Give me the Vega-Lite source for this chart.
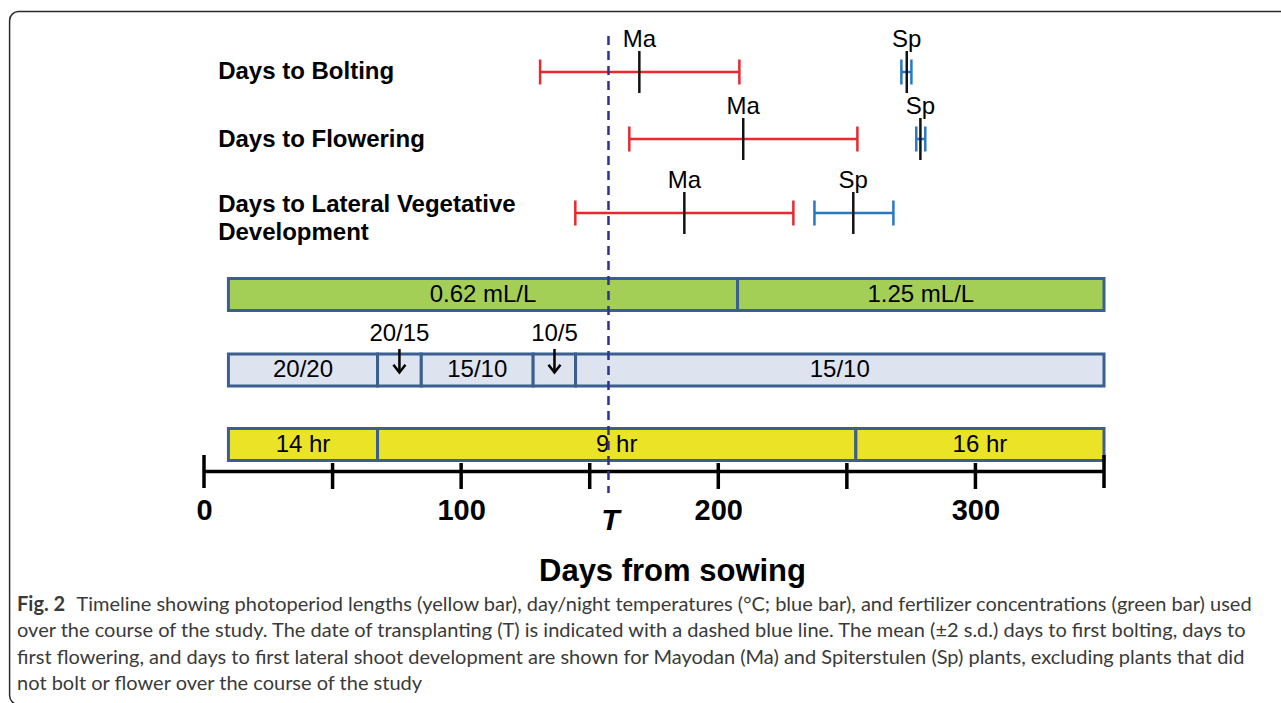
{
  "$schema": "https://vega.github.io/schema/vega-lite/v6.json",
  "width": 900,
  "height": 460,
  "autosize": {"type": "none"},
  "padding": {"left": 204, "right": 177, "top": 11, "bottom": 232},
  "background": "white",
  "config": {"view": {"stroke": null}, "font": "Liberation Sans", "axisX": {"grid": false}},
  "datasets": {
    "bars": [
      {"band": "fert", "seg": 1, "start": 9.5, "end": 207.5, "label": "0.62 mL/L", "lvl": 176.5},
      {"band": "fert", "seg": 2, "start": 207.5, "end": 350, "label": "1.25 mL/L", "lvl": 176.5},
      {"band": "temp", "seg": 3, "start": 9.5, "end": 67.5, "label": "20/20", "lvl": 101},
      {"band": "temp", "seg": 4, "start": 67.5, "end": 84.5, "label": "", "lvl": 101},
      {"band": "temp", "seg": 5, "start": 84.5, "end": 128, "label": "15/10", "lvl": 101},
      {"band": "temp", "seg": 6, "start": 128, "end": 144.5, "label": "", "lvl": 101},
      {"band": "temp", "seg": 7, "start": 144.5, "end": 350, "label": "15/10", "lvl": 101},
      {"band": "photo", "seg": 8, "start": 9.5, "end": 67.5, "label": "14 hr", "lvl": 26.5},
      {"band": "photo", "seg": 9, "start": 67.5, "end": 253.5, "label": "9 hr", "lvl": 26.5},
      {"band": "photo", "seg": 10, "start": 253.5, "end": 350, "label": "16 hr", "lvl": 26.5}
    ],
    "spans": [
      {"trait": "Bolting", "line": "Ma", "lo": 130.7, "mean": 169.3, "hi": 208.2, "lvl": 399},
      {"trait": "Bolting", "line": "Sp", "lo": 271.2, "mean": 273.3, "hi": 275.1, "lvl": 399},
      {"trait": "Flowering", "line": "Ma", "lo": 165.4, "mean": 209.7, "hi": 254.1, "lvl": 332},
      {"trait": "Flowering", "line": "Sp", "lo": 277.0, "mean": 278.6, "hi": 280.5, "lvl": 332},
      {"trait": "Lateral", "line": "Ma", "lo": 144.4, "mean": 186.8, "hi": 229.2, "lvl": 258},
      {"trait": "Lateral", "line": "Sp", "lo": 237.4, "mean": 252.5, "hi": 268.1, "lvl": 258}
    ],
    "rows": [
      {"label": "Days to Bolting", "lvl": 399},
      {"label": "Days to Flowering", "lvl": 331},
      {"label": "Days to Lateral Vegetative\nDevelopment", "lvl": 266}
    ],
    "arrows": [
      {"label": "20/15", "day": 76},
      {"label": "10/5", "day": 136.3}
    ],
    "ticks": [
      {"day": 0}, {"day": 50}, {"day": 100}, {"day": 150}, {"day": 200}, {"day": 250}, {"day": 300}, {"day": 350}
    ]
  },
  "layer": [
    {
      "data": {"name": "bars"},
      "mark": {"type": "bar", "size": 32, "stroke": "#3b5f8f", "strokeWidth": 3},
      "encoding": {
        "x": {
          "field": "start", "type": "quantitative",
          "scale": {"domain": [0, 350], "nice": false, "zero": false, "padding": 0},
          "axis": {
            "values": [0, 100, 200, 300], "ticks": false, "tickSize": 0, "grid": false,
            "domain": true, "domainColor": "#000000", "domainWidth": 3.5,
            "labelFont": "Liberation Sans", "labelFontSize": 29, "labelFontWeight": "bold", "labelColor": "#000000",
            "labelPadding": 25, "labelFlush": false, "labelOverlap": false,
            "title": "Days from sowing", "titleFont": "Liberation Sans", "titleFontSize": 31, "titleFontWeight": "bold",
            "titleColor": "#000000", "titleX": 468, "titleY": 109, "titleAlign": "center", "titleBaseline": "alphabetic"
          }
        },
        "x2": {"field": "end"},
        "y": {"field": "lvl", "type": "quantitative", "scale": {"domain": [0, 460], "nice": false, "zero": false, "padding": 0}, "axis": null},
        "fill": {"field": "band", "type": "nominal", "scale": {"domain": ["fert", "temp", "photo"], "range": ["#a4cf57", "#dde3ef", "#ebe325"]}, "legend": null}
      }
    },
    {
      "data": {"values": [{}]},
      "mark": {"type": "rect", "fillOpacity": 0, "stroke": "#2b2b2b", "strokeWidth": 1.5, "cornerRadius": 9},
      "encoding": {
        "x": {"datum": -75.6, "type": "quantitative", "scale": {"domain": [0, 350], "nice": false, "zero": false, "padding": 0}},
        "x2": {"datum": 470},
        "y": {"datum": 459.5, "type": "quantitative", "scale": {"domain": [0, 460], "nice": false, "zero": false, "padding": 0}, "axis": null},
        "y2": {"datum": -233.5}
      }
    },
    {
      "data": {"name": "bars"},
      "transform": [
        {"filter": "datum.label != ''"},
        {"fold": ["start", "end"], "as": ["edge", "day"]}
      ],
      "mark": {"type": "text", "fontSize": 24, "baseline": "middle", "align": "center", "color": "#000000"},
      "encoding": {
        "x": {"aggregate": "mean", "field": "day", "type": "quantitative", "scale": {"domain": [0, 350], "nice": false, "zero": false, "padding": 0}},
        "y": {"field": "lvl", "type": "quantitative", "scale": {"domain": [0, 460], "nice": false, "zero": false, "padding": 0}, "axis": null},
        "detail": {"field": "seg", "type": "nominal"},
        "text": {"field": "label", "type": "nominal"}
      }
    },
    {
      "data": {"name": "arrows"},
      "mark": {"type": "text", "fontSize": 24, "baseline": "middle", "align": "center", "color": "#000000"},
      "encoding": {
        "x": {"field": "day", "type": "quantitative", "scale": {"domain": [0, 350], "nice": false, "zero": false, "padding": 0}},
        "y": {"datum": 137.5, "type": "quantitative", "scale": {"domain": [0, 460], "nice": false, "zero": false, "padding": 0}, "axis": null},
        "text": {"field": "label", "type": "nominal"}
      }
    },
    {
      "data": {"name": "arrows"},
      "mark": {"type": "rule", "color": "#000000", "strokeWidth": 2.5},
      "encoding": {
        "x": {"field": "day", "type": "quantitative", "scale": {"domain": [0, 350], "nice": false, "zero": false, "padding": 0}},
        "y": {"datum": 122, "type": "quantitative", "scale": {"domain": [0, 460], "nice": false, "zero": false, "padding": 0}, "axis": null},
        "y2": {"datum": 99}
      }
    },
    {
      "data": {"name": "arrows"},
      "mark": {"type": "point", "shape": "M-1,-1.3L0,0L1,-1.3", "size": 144, "filled": false, "stroke": "#000000", "strokeWidth": 2.5, "opacity": 1},
      "encoding": {
        "x": {"field": "day", "type": "quantitative", "scale": {"domain": [0, 350], "nice": false, "zero": false, "padding": 0}},
        "y": {"datum": 98.5, "type": "quantitative", "scale": {"domain": [0, 460], "nice": false, "zero": false, "padding": 0}, "axis": null}
      }
    },
    {
      "data": {"name": "spans"},
      "mark": {"type": "rule", "strokeWidth": 2.5},
      "encoding": {
        "x": {"field": "lo", "type": "quantitative", "scale": {"domain": [0, 350], "nice": false, "zero": false, "padding": 0}},
        "x2": {"field": "hi"},
        "y": {"field": "lvl", "type": "quantitative", "scale": {"domain": [0, 460], "nice": false, "zero": false, "padding": 0}, "axis": null},
        "color": {"field": "line", "type": "nominal", "scale": {"domain": ["Ma", "Sp"], "range": ["#e8282e", "#2878c2"]}, "legend": null}
      }
    },
    {
      "data": {"name": "spans"},
      "transform": [{"fold": ["lo", "hi"], "as": ["end", "day"]}],
      "mark": {"type": "tick", "orient": "vertical", "size": 25, "thickness": 2.5, "opacity": 1},
      "encoding": {
        "x": {"field": "day", "type": "quantitative", "scale": {"domain": [0, 350], "nice": false, "zero": false, "padding": 0}},
        "y": {"field": "lvl", "type": "quantitative", "scale": {"domain": [0, 460], "nice": false, "zero": false, "padding": 0}, "axis": null},
        "color": {"field": "line", "type": "nominal", "scale": {"domain": ["Ma", "Sp"], "range": ["#e8282e", "#2878c2"]}, "legend": null}
      }
    },
    {
      "data": {"name": "spans"},
      "mark": {"type": "tick", "orient": "vertical", "size": 42, "thickness": 2.5, "color": "#111111", "opacity": 1},
      "encoding": {
        "x": {"field": "mean", "type": "quantitative", "scale": {"domain": [0, 350], "nice": false, "zero": false, "padding": 0}},
        "y": {"field": "lvl", "type": "quantitative", "scale": {"domain": [0, 460], "nice": false, "zero": false, "padding": 0}, "axis": null}
      }
    },
    {
      "data": {"name": "spans"},
      "mark": {"type": "text", "fontSize": 24, "baseline": "middle", "align": "center", "dy": -32.5, "color": "#000000"},
      "encoding": {
        "x": {"field": "mean", "type": "quantitative", "scale": {"domain": [0, 350], "nice": false, "zero": false, "padding": 0}},
        "y": {"field": "lvl", "type": "quantitative", "scale": {"domain": [0, 460], "nice": false, "zero": false, "padding": 0}, "axis": null},
        "text": {"field": "line", "type": "nominal"}
      }
    },
    {
      "data": {"name": "rows"},
      "mark": {"type": "text", "fontSize": 24, "fontWeight": "bold", "baseline": "middle", "align": "left", "lineBreak": "\n", "lineHeight": 28, "color": "#000000"},
      "encoding": {
        "x": {"datum": 5.5, "type": "quantitative", "scale": {"domain": [0, 350], "nice": false, "zero": false, "padding": 0}},
        "y": {"field": "lvl", "type": "quantitative", "scale": {"domain": [0, 460], "nice": false, "zero": false, "padding": 0}, "axis": null},
        "text": {"field": "label", "type": "nominal"}
      }
    },
    {
      "data": {"name": "ticks"},
      "transform": [{"filter": "datum.day > 0 && datum.day < 350"}],
      "mark": {"type": "tick", "orient": "vertical", "size": 26, "thickness": 3.5, "color": "#000000", "opacity": 1},
      "encoding": {
        "x": {"field": "day", "type": "quantitative", "scale": {"domain": [0, 350], "nice": false, "zero": false, "padding": 0}},
        "y": {"datum": -5, "type": "quantitative", "scale": {"domain": [0, 460], "nice": false, "zero": false, "padding": 0}, "axis": null}
      }
    },
    {
      "data": {"name": "ticks"},
      "transform": [{"filter": "datum.day == 0 || datum.day == 350"}],
      "mark": {"type": "tick", "orient": "vertical", "size": 33, "thickness": 3.5, "color": "#000000", "opacity": 1},
      "encoding": {
        "x": {"field": "day", "type": "quantitative", "scale": {"domain": [0, 350], "nice": false, "zero": false, "padding": 0}},
        "y": {"datum": -0.5, "type": "quantitative", "scale": {"domain": [0, 460], "nice": false, "zero": false, "padding": 0}, "axis": null}
      }
    },
    {
      "data": {"values": [{}]},
      "mark": {"type": "rule", "color": "#2e3192", "strokeWidth": 2.5, "strokeDash": [9, 6]},
      "encoding": {
        "x": {"datum": 157.3, "type": "quantitative", "scale": {"domain": [0, 350], "nice": false, "zero": false, "padding": 0}},
        "y": {"datum": 435, "type": "quantitative", "scale": {"domain": [0, 460], "nice": false, "zero": false, "padding": 0}, "axis": null},
        "y2": {"datum": -22}
      }
    },
    {
      "data": {"values": [{"label": "T"}]},
      "mark": {"type": "text", "fontSize": 30, "fontWeight": "bold", "fontStyle": "italic", "baseline": "middle", "align": "center", "color": "#000000"},
      "encoding": {
        "x": {"datum": 158, "type": "quantitative", "scale": {"domain": [0, 350], "nice": false, "zero": false, "padding": 0}},
        "y": {"datum": -50, "type": "quantitative", "scale": {"domain": [0, 460], "nice": false, "zero": false, "padding": 0}, "axis": null},
        "text": {"field": "label", "type": "nominal"}
      }
    },
    {
      "data": {"values": [{"label": "Fig. 2"}]},
      "mark": {"type": "text", "font": "Lato", "fontSize": 20, "fontWeight": "bold", "baseline": "middle", "align": "left", "color": "#3a3a3a"},
      "encoding": {
        "x": {"datum": -72.7, "type": "quantitative", "scale": {"domain": [0, 350], "nice": false, "zero": false, "padding": 0}},
        "y": {"datum": -134, "type": "quantitative", "scale": {"domain": [0, 460], "nice": false, "zero": false, "padding": 0}, "axis": null},
        "text": {"field": "label", "type": "nominal"}
      }
    },
    {
      "data": {"values": [{"label": "Timeline showing photoperiod lengths (yellow bar), day/night temperatures (°C; blue bar), and fertilizer concentrations (green bar) used"}]},
      "mark": {"type": "text", "font": "Lato", "fontSize": 20, "baseline": "middle", "align": "left", "color": "#3a3a3a"},
      "encoding": {
        "x": {"datum": -49.6, "type": "quantitative", "scale": {"domain": [0, 350], "nice": false, "zero": false, "padding": 0}},
        "y": {"datum": -134, "type": "quantitative", "scale": {"domain": [0, 460], "nice": false, "zero": false, "padding": 0}, "axis": null},
        "text": {"field": "label", "type": "nominal"}
      }
    },
    {
      "data": {"values": [{"label": "over the course of the study. The date of transplanting (T) is indicated with a dashed blue line. The mean (±2 s.d.) days to first bolting, days to\nfirst flowering, and days to first lateral shoot development are shown for Mayodan (Ma) and Spiterstulen (Sp) plants, excluding plants that did\nnot bolt or flower over the course of the study"}]},
      "mark": {"type": "text", "font": "Lato", "fontSize": 20, "baseline": "middle", "align": "left", "lineBreak": "\n", "lineHeight": 26.5, "color": "#3a3a3a"},
      "encoding": {
        "x": {"datum": -72.7, "type": "quantitative", "scale": {"domain": [0, 350], "nice": false, "zero": false, "padding": 0}},
        "y": {"datum": -160, "type": "quantitative", "scale": {"domain": [0, 460], "nice": false, "zero": false, "padding": 0}, "axis": null},
        "text": {"field": "label", "type": "nominal"}
      }
    }
  ]
}
